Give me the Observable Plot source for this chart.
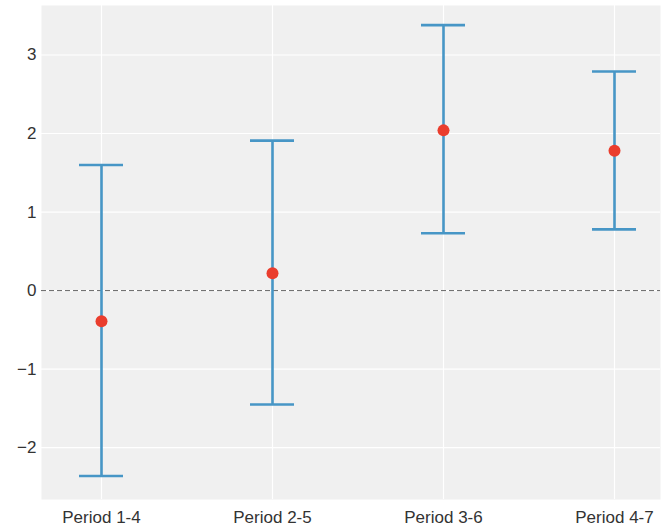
<!DOCTYPE html>
<html>
<head>
<meta charset="utf-8">
<script src="https://cdn.jsdelivr.net/npm/d3@7"></script>
<script src="https://cdn.jsdelivr.net/npm/@observablehq/plot@0.6"></script>
<style>
  body { margin: 0; background: #fff; }
  #chart { width: 663px; height: 529px; }
</style>
</head>
<body>
<div id="chart"></div>
<script>
const periods = ["Period 1-4", "Period 2-5", "Period 3-6", "Period 4-7"];
const means = [-0.39, 0.22, 2.04, 1.78];
const lowers = [-2.36, -1.45, 0.73, 0.78];
const uppers = [1.60, 1.91, 3.38, 2.79];
const yTicks = [-2, -1, 0, 1, 2, 3];

const data = periods.map((p, i) => ({period: p, mean: means[i], lo: lowers[i], hi: uppers[i]}));

const blue = "#4796c6";
const red = "#ea3d2d";

const chart = Plot.plot({
  width: 663,
  height: 529,
  marginLeft: 41,
  marginRight: 3,
  marginTop: 5,
  marginBottom: 30,
  style: {fontFamily: "'Liberation Sans', Arial, sans-serif", fontSize: "17px", color: "#333", background: "#fff"},
  x: {type: "band", domain: periods, paddingInner: 0.743, paddingOuter: 0.178, align: 0.605, label: null},
  y: {domain: [-2.66, 3.63], label: null},
  marks: [
    Plot.frame({fill: "#f0f0f0", stroke: "none"}),
    Plot.gridY(yTicks, {stroke: "#fff", strokeOpacity: 1, strokeWidth: 1.2}),
    Plot.gridX({stroke: "#fff", strokeOpacity: 1, strokeWidth: 1.2}),
    Plot.ruleY([0], {stroke: "#666", strokeWidth: 1, strokeDasharray: "5,3"}),
    Plot.ruleX(data, {x: "period", y1: "lo", y2: "hi", stroke: blue, strokeWidth: 2.6}),
    Plot.tickY(data, {x: "period", y: "lo", stroke: blue, strokeWidth: 2.6}),
    Plot.tickY(data, {x: "period", y: "hi", stroke: blue, strokeWidth: 2.6}),
    Plot.dot(data, {x: "period", y: "mean", fill: red, r: 6, stroke: "none"}),
    Plot.axisY(yTicks, {tickSize: 0, tickPadding: 5, fontSize: 17, label: null, tickFormat: d3.format("d")}),
    Plot.axisX({tickSize: 0, tickPadding: 11, fontSize: 17, label: null})
  ]
});
document.getElementById("chart").appendChild(chart);
</script>
</body>
</html>
